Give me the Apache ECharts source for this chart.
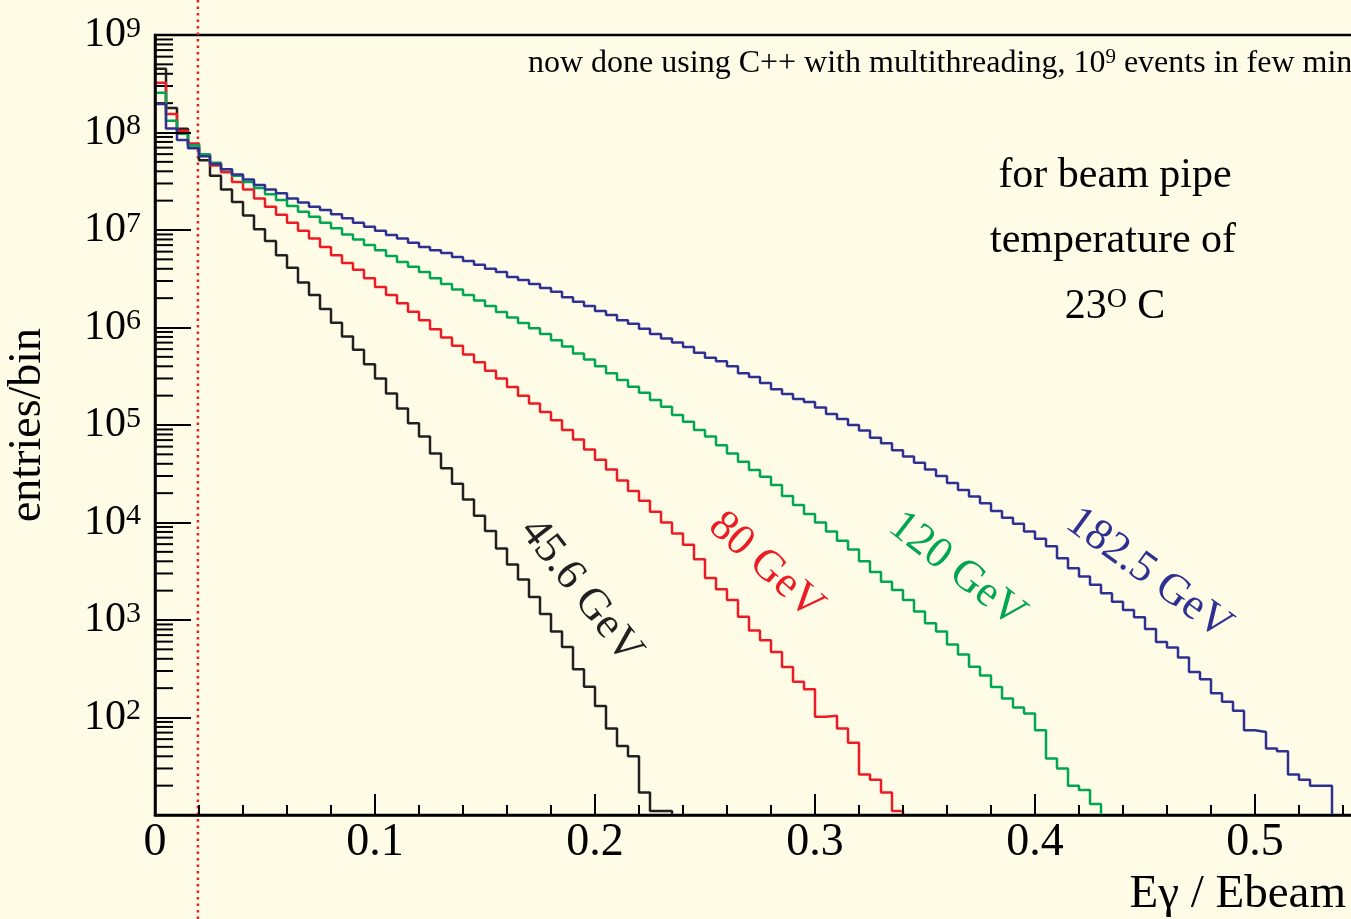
<!DOCTYPE html>
<html><head><meta charset="utf-8">
<script src="https://cdn.jsdelivr.net/npm/echarts@6/dist/echarts.min.js"></script>
<style>html,body{margin:0;padding:0;background:#fefbe7;}#c{width:1351px;height:919px;}</style>
</head><body><div id="c"></div>
<script>
// bin width in Eγ/Ebeam, entries per bin for each beam energy
const binWidth = 0.005;
const e45 = [4.5e8, 1.78e8, 1.09e8, 7.4e7, 5.2e7, 3.6e7, 2.6e7, 1.94e7, 1.41e7, 1.02e7,
 7.7e6, 5.5e6, 4.1e6, 2.9e6, 2.15e6, 1.55e6, 1.12e6, 8.1e5, 5.9e5, 4.2e5,
 3.0e5, 2.1e5, 1.48e5, 1.04e5, 7.6e4, 5.1e4, 3.6e4, 2.5e4, 1.72e4, 1.17e4,
 8.2e3, 5.4e3, 3.7e3, 2.6e3, 1.72e3, 1.15e3, 760, 530, 312, 207,
 131, 77, 51, 40, 17, 11, 11];
const e80 = [3.24e8, 1.55e8, 1.04e8, 7.7e7, 5.9e7, 4.6e7, 3.9e7, 3.1e7, 2.6e7, 2.1e7,
 1.73e7, 1.43e7, 1.19e7, 9.8e6, 8.2e6, 6.7e6, 5.5e6, 4.6e6, 3.9e6, 3.2e6,
 2.6e6, 2.15e6, 1.77e6, 1.45e6, 1.19e6, 9.6e5, 7.9e5, 6.5e5, 5.3e5, 4.4e5,
 3.6e5, 3.0e5, 2.45e5, 2.0e5, 1.66e5, 1.36e5, 1.12e5, 8.9e4, 7.1e4, 5.6e4,
 4.4e4, 3.5e4, 2.7e4, 2.1e4, 1.67e4, 1.29e4, 1.0e4, 7.7e3, 5.9e3, 4.2e3,
 2.7e3, 2.07e3, 1.6e3, 1.08e3, 780, 620, 470, 330, 233, 195,
 102, 104, 77, 55, 26, 23, 17, 11];
const e120 = [2.56e8, 1.32e8, 9.7e7, 7.4e7, 6.0e7, 4.9e7, 4.2e7, 3.6e7, 3.1e7, 2.7e7,
 2.32e7, 2.03e7, 1.76e7, 1.54e7, 1.37e7, 1.19e7, 1.04e7, 9.0e6, 8.0e6, 7.0e6,
 6.2e6, 5.4e6, 4.7e6, 4.2e6, 3.7e6, 3.2e6, 2.8e6, 2.45e6, 2.15e6, 1.89e6,
 1.66e6, 1.44e6, 1.27e6, 1.11e6, 9.8e5, 8.6e5, 7.4e5, 6.4e5, 5.4e5, 4.7e5,
 4.0e5, 3.4e5, 2.9e5, 2.47e5, 2.14e5, 1.8e5, 1.54e5, 1.27e5, 1.08e5, 8.9e4,
 7.6e4, 6.2e4, 5.1e4, 4.2e4, 3.45e4, 2.95e4, 2.43e4, 1.87e4, 1.51e4, 1.22e4,
 1.0e4, 8.1e3, 6.5e3, 5.3e3, 4.0e3, 3.1e3, 2.47e3, 2.03e3, 1.6e3, 1.22e3,
 925, 760, 560, 443, 332, 270, 205, 157, 127, 110,
 74, 38, 30, 20, 18, 13];
const e182 = [1.96e8, 1.10e8, 8.4e7, 6.9e7, 5.7e7, 4.75e7, 4.2e7, 3.7e7, 3.3e7, 2.9e7,
 2.61e7, 2.38e7, 2.11e7, 1.91e7, 1.73e7, 1.60e7, 1.45e7, 1.32e7, 1.19e7, 1.08e7,
 9.8e6, 8.9e6, 8.2e6, 7.4e6, 6.7e6, 6.2e6, 5.8e6, 5.3e6, 4.8e6, 4.4e6,
 4.0e6, 3.7e6, 3.3e6, 3.07e6, 2.8e6, 2.54e6, 2.33e6, 2.04e6, 1.84e6, 1.66e6,
 1.48e6, 1.34e6, 1.19e6, 1.09e6, 9.7e5, 8.6e5, 7.7e5, 7.0e5, 6.3e5, 5.5e5,
 4.9e5, 4.5e5, 4.0e5, 3.4e5, 3.1e5, 2.7e5, 2.32e5, 2.08e5, 1.85e5, 1.72e5,
 1.51e5, 1.30e5, 1.15e5, 1.0e5, 8.8e4, 7.4e4, 6.5e4, 5.5e4, 4.75e4, 4.1e4,
 3.5e4, 3.0e4, 2.54e4, 2.15e4, 1.85e4, 1.58e4, 1.31e4, 1.12e4, 9.7e3, 8.1e3,
 6.8e3, 5.7e3, 4.3e3, 3.4e3, 2.8e3, 2.3e3, 1.88e3, 1.54e3, 1.27e3, 1.07e3,
 810, 595, 522, 412, 293, 247, 177, 145, 117, 74,
 71, 48, 45, 26, 23, 20, 20];
const seriesNames = ['45.6 GeV', '80 GeV', '120 GeV', '182.5 GeV'];
const seriesColors = ['#231f20', '#ed1c24', '#00a651', '#2e3192'];
const xTickLabels = ['0', '0.1', '0.2', '0.3', '0.4', '0.5'];
const cutValue = 0.0195;
const yMin = 10, yMax = 1e9, xMax = 0.6;

const SERIF = 'Liberation Serif';
const chart = echarts.init(document.getElementById('c'), null, {renderer: 'canvas'});

function toSteps(vals) {
  const pts = vals.map((v, i) => [i * binWidth, v]);
  pts.push([vals.length * binWidth, yMin]);
  return pts;
}
const yMinor = [];
for (let d = 1; d < 9; d++) for (let m = 2; m <= 9; m++) yMinor.push([0, m * Math.pow(10, d)]);

const histSeries = [e45, e80, e120, e182].map((vals, i) => ({
  type: 'line', name: seriesNames[i], step: 'end', data: toSteps(vals), showSymbol: false,
  symbol: 'none', lineStyle: {color: seriesColors[i], width: 2.5}, z: 5 + i, silent: true
}));

chart.setOption({
  animation: false,
  backgroundColor: '#fefbe7',
  grid: {left: 155, top: 35, bottom: 104, right: 1351 - 155 - Math.round(xMax / 0.1 * 220),
         containLabel: false, outerBoundsMode: 'none',
         show: true, borderColor: '#000', borderWidth: 2.5, backgroundColor: 'transparent'},
  xAxis: {
    type: 'value', min: 0, max: xMax, interval: 0.1, z: 10,
    axisLine: {show: true, lineStyle: {color: '#000', width: 2.5}},
    axisTick: {show: true, inside: true, length: 21, lineStyle: {color: '#000', width: 2}},
    minorTick: {show: true, splitNumber: 5, length: 10, lineStyle: {color: '#000', width: 2}},
    splitLine: {show: false},
    axisLabel: {margin: 5, color: '#000', fontFamily: SERIF, fontSize: 46,
      formatter: v => { const k = Math.round(v * 10); return Math.abs(v * 10 - k) < 1e-6 && k < xTickLabels.length ? xTickLabels[k] : ''; }}
  },
  yAxis: {
    type: 'log', logBase: 10, min: yMin, max: yMax, z: 10,
    name: 'entries/bin', nameLocation: 'middle', nameRotate: 90, nameGap: 104,
    nameTextStyle: {color: '#000', fontFamily: SERIF, fontSize: 46},
    axisLine: {show: true, lineStyle: {color: '#000', width: 2.5}},
    axisTick: {show: true, inside: true, length: 36, lineStyle: {color: '#000', width: 2}},
    splitLine: {show: false}, minorTick: {show: false},
    axisLabel: {margin: 14, color: '#000',
      formatter: v => { const e = Math.round(Math.log10(v)); return e <= 1 ? '' : '{b|10}{s|' + e + '}'; },
      rich: {b: {fontFamily: SERIF, fontSize: 42, color: '#000', lineHeight: 42, verticalAlign: 'bottom'},
             s: {fontFamily: SERIF, fontSize: 30, color: '#000', lineHeight: 42, verticalAlign: 'top', padding: [0, 0, 16, 0]}}}
  },
  series: [
    {type: 'custom', silent: true, clip: false, z: 3, data: yMinor,
     renderItem: (params, api) => {
       const p = api.coord([0, api.value(1)]);
       return {type: 'line', shape: {x1: p[0], y1: p[1], x2: p[0] + 18, y2: p[1]},
               style: {stroke: '#000', lineWidth: 2}};
     }},
    ...histSeries
  ]
});

const cx = chart.convertToPixel({gridIndex: 0}, [cutValue, yMin])[0];
const txt = (text, x, y, opts) => Object.assign({type: 'text', x: x, y: y, z: 20,
  style: Object.assign({text: text, fill: '#000', font: '42px "Liberation Serif"', align: 'center', verticalAlign: 'middle'}, opts || {})});
chart.setOption({
  graphic: [
    {type: 'line', z: 2, shape: {x1: cx, y1: 0, x2: cx, y2: 919},
     style: {stroke: '#ed1c24', lineWidth: 2.5, lineDash: [2.5, 4]}},
    {type: 'text', x: 528, y: 64, z: 20, style: {
      text: 'now done using C++ with multithreading, 10{s|9} events in few min',
      rich: {s: {font: '21px "Liberation Serif"', verticalAlign: 'top', padding: [0, 0, 13, 0], fill: '#000'}},
      font: '32px "Liberation Serif"', fill: '#000', align: 'left', verticalAlign: 'middle'}},
    txt('for beam pipe', 1115, 176),
    txt('temperature of', 1113, 241),
    {type: 'text', x: 1115, y: 307, z: 20, style: {
      text: '23{s|O} C', rich: {s: {font: '28px "Liberation Serif"', verticalAlign: 'top', padding: [0, 0, 14, 0], fill: '#000'}},
      font: '42px "Liberation Serif"', fill: '#000', align: 'center', verticalAlign: 'middle'}},
    {type: 'text', x: 1346, y: 895, z: 20, style: {text: 'Eγ / Ebeam', font: '47px "Liberation Serif"', fill: '#000', align: 'right', verticalAlign: 'middle'}},
    Object.assign(txt(seriesNames[0], 581, 591, {font: '44px "Liberation Serif"', fill: seriesColors[0]}), {rotation: -52 * Math.PI / 180}),
    Object.assign(txt(seriesNames[1], 766, 566, {font: '44px "Liberation Serif"', fill: seriesColors[1]}), {rotation: -42 * Math.PI / 180}),
    Object.assign(txt(seriesNames[2], 957, 570, {font: '44px "Liberation Serif"', fill: seriesColors[2]}), {rotation: -38 * Math.PI / 180}),
    Object.assign(txt(seriesNames[3], 1149, 574, {font: '44px "Liberation Serif"', fill: seriesColors[3]}), {rotation: -36 * Math.PI / 180})
  ]
});
</script></body></html>
